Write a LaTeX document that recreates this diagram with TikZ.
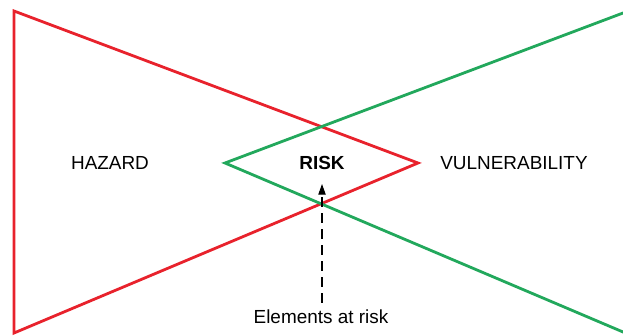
\documentclass[tikz,border=0pt]{standalone}
\usepackage{fontspec}
\setmainfont{Liberation Sans}
\usetikzlibrary{arrows.meta}
\tikzset{every picture/.style={line width=0.75pt}}
\definecolor{hazred}{RGB}{232,34,44}
\definecolor{vulgreen}{RGB}{34,168,92}

\begin{document}
\begin{tikzpicture}[x=0.75pt,y=0.75pt,yscale=-1,xscale=1,
  lbl/.style={inner sep=0.75pt,font=\fontsize{14.2}{17}\selectfont}]
\useasboundingbox (0,0) rectangle (623,335);

%Shape: Triangle (hazard)
\draw [color=hazred, line width=2.1pt, line join=miter] (14,11) -- (418,163) -- (14,333) -- cycle ;
%Shape: Triangle (vulnerability)
\draw [color=vulgreen, line width=2.1pt, line join=miter] (640,6.6) -- (225,163) -- (640,339.2) ;

% Text Node
\node [lbl] (hazard) at (110,163) {HAZARD};
% Text Node
\node [lbl] (risk) at (322,163) {\textbf{RISK}};
% Text Node
\node [lbl] (vuln) at (514,163) {VULNERABILITY};
% Text Node
\node [lbl] (elem) at (321,317) {Elements at risk};

%Straight Lines
\coordinate (tip) at (322,184);
\draw [dash pattern={on 7.5pt off 4.5pt}, line width=0.8pt, -{Triangle[length=8pt,width=5.5pt]}] (elem.north -| tip) ++(0,-6) -- (tip) ;

\end{tikzpicture}
\end{document}
